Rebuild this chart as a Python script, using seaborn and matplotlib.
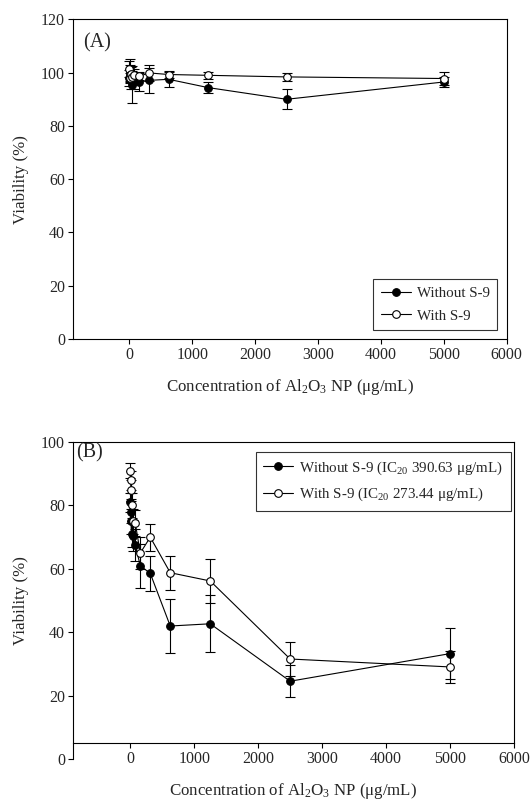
import matplotlib
matplotlib.use("Agg")
import matplotlib.pyplot as plt
import seaborn as sns
import pandas as pd

# concentrations (ug/mL), two-fold dilution series
conc = [0, 4.88, 9.77, 19.53, 39.06, 78.13, 156.25, 312.5, 625, 1250, 2500, 5000]

# panel A
a_without = [98.0, 101.5, 100.0, 97.0, 95.5, 97.0, 96.5, 97.1, 97.5, 94.4, 90.0, 96.5]
a_without_sd = [3.0, 3.5, 3.0, 3.0, 7.0, 3.0, 3.5, 4.8, 2.8, 2.0, 3.8, 2.0]
a_with = [101.5, 99.0, 98.0, 99.5, 98.5, 99.2, 98.6, 99.9, 99.3, 99.0, 98.4, 97.8]
a_with_sd = [3.0, 2.5, 2.0, 2.5, 2.0, 2.0, 1.5, 3.0, 1.2, 1.2, 1.5, 2.5]

# panel B
b_without = [81.0, 78.0, 75.0, 71.0, 70.5, 67.5, 61.0, 58.6, 42.0, 42.7, 24.6, 33.3]
b_without_sd = [3.0, 3.5, 4.0, 4.0, 5.0, 5.0, 7.0, 5.5, 8.5, 9.0, 5.0, 8.0]
b_with = [91.0, 88.0, 85.0, 80.0, 75.0, 74.5, 65.0, 70.0, 58.8, 56.2, 31.6, 29.1]
b_with_sd = [2.5, 3.0, 3.0, 4.0, 4.0, 4.0, 5.0, 4.2, 5.4, 6.8, 5.3, 5.0]

labels_a = ["Without S-9", "With S-9"]
labels_b = [r"Without S-9 (IC$_{20}$ 390.63 μg/mL)", r"With S-9 (IC$_{20}$ 273.44 μg/mL)"]
xlabel = r"Concentration of Al$_2$O$_3$ NP (μg/mL)"

sns.set_style("ticks")
plt.rcParams["font.family"] = ["Liberation Serif", "DejaVu Serif"]
plt.rcParams["mathtext.fontset"] = "custom"
plt.rcParams["mathtext.rm"] = "Liberation Serif"
plt.rcParams["mathtext.it"] = "Liberation Serif:italic"
plt.rcParams["axes.linewidth"] = 0.8

fig = plt.figure(figsize=(5.30, 8.01), dpi=100)
ax_a = fig.add_axes([0.1372, 0.5768, 0.819, 0.399])
ax_b = fig.add_axes([0.1372, 0.0521, 0.8326, 0.3961])


def draw_panel(ax, ys, sds, labels):
    fills = ["black", "white"]
    for y, sd, lab, fc in zip(ys, sds, labels, fills):
        df = pd.DataFrame({"conc": conc, "viab": y})
        ax.errorbar(conc, y, yerr=sd, fmt="none", ecolor="black",
                    elinewidth=0.8, capsize=3.5, capthick=0.8, zorder=2)
        sns.lineplot(data=df, x="conc", y="viab", ax=ax, color="black",
                     marker="o", markersize=5.5, markerfacecolor=fc,
                     markeredgecolor="black", markeredgewidth=0.8,
                     linewidth=0.8, label=lab, zorder=3)
    ax.set_xlim(-900, 6000)
    ax.set_xticks(range(0, 6001, 1000))
    ax.set_ylabel("Viability (%)", fontsize=12.2, labelpad=9)
    ax.set_xlabel(xlabel, fontsize=12.2, labelpad=10)
    ax.tick_params(labelsize=11.5, length=3.5, width=0.8, pad=2, color="black")
    for s in ax.spines.values():
        s.set_color("black")
        s.set_visible(True)


draw_panel(ax_a, [a_without, a_with], [a_without_sd, a_with_sd], labels_a)
ax_a.set_ylim(0, 120)
ax_a.set_yticks(range(0, 121, 20))
ax_a.text(0.024, 0.927, "(A)", transform=ax_a.transAxes, fontsize=14.5, va="center")
leg = ax_a.legend(loc="lower right", bbox_to_anchor=(0.978, 0.028), fontsize=10.8,
                  frameon=True, fancybox=False, edgecolor="black", borderaxespad=0,
                  handlelength=2.0, borderpad=0.5, labelspacing=0.6,
                  handletextpad=0.4)
leg.get_frame().set_linewidth(0.8)

draw_panel(ax_b, [b_without, b_with], [b_without_sd, b_with_sd], labels_b)
ax_b.set_ylim(0, 100)
ax_b.set_yticks(range(0, 101, 20))
ax_b.spines["bottom"].set_position(("data", 5))
ax_b.spines["right"].set_bounds(5, 100)
ax_b.text(0.008, 0.966, "(B)", transform=ax_b.transAxes, fontsize=14.5, va="center")
leg = ax_b.legend(loc="upper right", bbox_to_anchor=(0.9925, 0.969), fontsize=10.8,
                  frameon=True, fancybox=False, edgecolor="black", borderaxespad=0,
                  handlelength=2.0, borderpad=0.5, labelspacing=0.6,
                  handletextpad=0.4)
leg.get_frame().set_linewidth(0.8)

fig.savefig("out.png", dpi=100)
